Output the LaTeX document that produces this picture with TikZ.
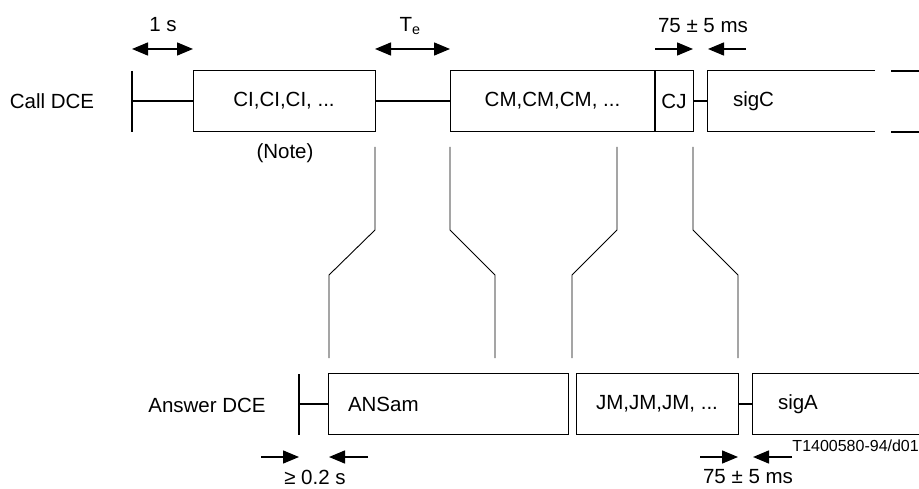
\documentclass[tikz,border=0pt]{standalone}
\usepackage{fontspec}
\setmainfont{Liberation Sans}
\usetikzlibrary{arrows.meta}

\begin{document}
\begin{tikzpicture}[x=1pt, y=-1pt, >={Triangle[length=16pt,width=13pt]},
  txt/.style={font=\fontsize{20.5}{24}\selectfont, inner sep=0pt},
  sig/.style={draw, line width=0.9pt, minimum height=61pt, inner sep=0pt,
    font=\fontsize{20.5}{24}\selectfont},
  open/.style={minimum height=61pt, inner sep=0pt},
  bar/.style={line width=2pt},
  link/.style={line width=1.8pt},
  dim/.style={line width=1.5pt},
  map/.style={line width=0.9pt}]
  \useasboundingbox (0,0) rectangle (919,489);
  % calling side
  \node[txt] (call) at (52,101) {Call DCE};
  \coordinate (ctop) at (132,71);
  \coordinate (cbot) at (132,132);
  \coordinate (cmid) at (132,101);
  \draw[bar] (ctop) -- (cbot);
  \node[sig, minimum width=182pt] (ci) at (284,101) {CI,CI,CI, ...};
  \node[txt] (note) at (285,153) {(Note)};
  \node[sig, minimum width=205pt] (cm) at (552.5,101) {CM,CM,CM, ...};
  \node[sig, minimum width=38pt] (cj) at (674,101) {CJ};
  \draw[bar] (cj.north west) -- (cj.south west);
  \node[open, minimum width=167pt] (sigc) at (791.5,101) {};
  \node[txt, anchor=west] (sigctxt) at ([xshift=25pt]sigc.west) {sigC};
  \draw[sig] (sigc.north east) -- (sigc.north west) -- (sigc.south west) -- (sigc.south east);
  \coordinate (ctail) at (891,71);
  \coordinate (cbtail) at (891,132);
  \draw[link] (ctail) -- (919,71);
  \draw[link] (cbtail) -- (919,132);
  \draw[link] (cmid) -- (ci.west);
  \draw[link] (ci.east) -- (cm.west);
  \draw[link] (cj.east) -- (sigc.west);
  % answering side
  \node[txt] (answer) at (207,405) {Answer DCE};
  \coordinate (atop) at (299,374);
  \coordinate (abot) at (299,435);
  \coordinate (amid) at (299,404);
  \draw[bar] (atop) -- (abot);
  \node[open, minimum width=239pt] (ansam) at (448.5,404) {};
  \draw[sig] (ansam.north west) rectangle (ansam.south east);
  \node[txt, anchor=west] (ansamtxt) at ([xshift=19pt]ansam.west) {ANSam};
  \node[sig, minimum width=162pt] (jm) at (657,404) {JM,JM,JM, ...};
  \node[open, minimum width=170pt] (siga) at (838,404) {};
  \node[txt, anchor=west] (sigatxt) at ([xshift=25pt]siga.west) {sigA};
  \draw[sig] (siga.north east) -- (siga.north west) -- (siga.south west) -- (siga.south east);
  \draw[link] (amid) -- (ansam.west);
  \draw[link] (jm.east) -- (siga.west);
  \node[font=\fontsize{16}{18}\selectfont, inner sep=0pt, anchor=east] (ref) at (919,446) {T1400580-94/d01};
  % mapping between the two lines
  \foreach \a/\b in {375/329, 450/495, 617/572, 693/738}
    \draw[map] (\a,147) -- (\a,230) -- (\b,275) -- (\b,358);
  % timings
  \draw[dim,<->] (132,49) -- (193,49);
  \node[txt] (tone) at (163,25) {1 s};
  \draw[dim,<->] (375,49) -- (450,49);
  \node[txt] (te) at (410,26) {T\textsubscript{e}};
  \draw[dim,->] (655,49) -- (693,49);
  \draw[dim,->] (746,49) -- (708,49);
  \node[txt] (tcj) at (703,26) {75 ± 5 ms};
  \draw[dim,->] (261,457) -- (299,457);
  \draw[dim,->] (368,457) -- (329,457);
  \node[txt] (tans) at (315,477) {≥ 0.2 s};
  \draw[dim,->] (700,457) -- (738,457);
  \draw[dim,->] (792,457) -- (753,457);
  \node[txt] (tjm) at (748,477) {75 ± 5 ms};
\end{tikzpicture}
\end{document}
